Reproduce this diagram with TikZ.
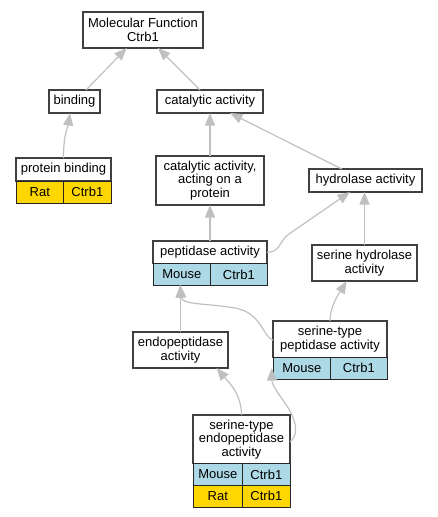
\documentclass[tikz,border=0pt]{standalone}
\usepackage{fontspec}
\setmainfont{Liberation Sans}
\usetikzlibrary{arrows.meta,calc}
\definecolor{edgec}{RGB}{192,192,192}
\definecolor{boxc}{RGB}{64,64,64}
\definecolor{mouse}{RGB}{173,216,230}
\definecolor{rat}{RGB}{255,215,0}
\begin{document}
\begin{tikzpicture}[x=1pt,y=-1pt,
  box/.style={draw=boxc,line width=1.3pt,fill=white,inner sep=0pt,outer sep=0pt,align=center,
    font=\fontsize{13}{13.4}\selectfont},
  cell/.style={draw=black!85,line width=1pt,inner sep=0pt,outer sep=0pt,align=center,
    font=\fontsize{13}{13.4}\selectfont},
  mousec/.style={cell,fill=mouse},
  ratc/.style={cell,fill=rat},
  edge/.style={draw=edgec,line width=1.2pt,-{Triangle[length=12.5pt,width=10pt]}}]
\path[use as bounding box] (0,0) rectangle (437,517);
% nodes
\node[box,minimum width=120,minimum height=36] (mf) at (143,30) {Molecular Function\\Ctrb1};
\node[box,minimum width=51,minimum height=23] (bind) at (74.5,101.5) {binding};
\node[box,minimum width=106,minimum height=23] (cat) at (210,101.5) {catalytic activity};
\node[box,minimum width=95,minimum height=23] (pbh) at (63.5,169.5) {protein binding};
\node[ratc,minimum width=47.7,minimum height=22] (pbr) at (39.85,192) {Rat};
\node[ratc,minimum width=47.3,minimum height=22] (pbc) at (87.35,192) {Ctrb1};
\node[box,minimum width=108,minimum height=49] (cap) at (210,180.5) {catalytic activity,\\acting on a\\protein};
\node[box,minimum width=113,minimum height=23] (hyd) at (365.5,180.5) {hydrolase activity};
\node[box,minimum width=114,minimum height=22.7] (peph) at (210,252.35) {peptidase activity};
\node[mousec,minimum width=57.7,minimum height=21.3] (pepm) at (181.85,274.35) {Mouse};
\node[mousec,minimum width=56.3,minimum height=21.3] (pepc) at (238.85,274.35) {Ctrb1};
\node[box,minimum width=105,minimum height=36] (shyd) at (364.5,263) {serine hydrolase\\activity};
\node[box,minimum width=95,minimum height=36] (endo) at (180.5,350) {endopeptidase\\activity};
\node[box,minimum width=114,minimum height=36.3] (stph) at (330,339.15) {serine-type\\peptidase activity};
\node[mousec,minimum width=57.7,minimum height=21.7] (stpm) at (301.85,368.15) {Mouse};
\node[mousec,minimum width=56.3,minimum height=21.7] (stpc) at (358.85,368.15) {Ctrb1};
\node[box,minimum width=97,minimum height=48.7] (steh) at (241.5,439.35) {serine-type\\endopeptidase\\activity};
\node[mousec,minimum width=49.7,minimum height=21.6] (stem) at (217.85,474.5) {Mouse};
\node[mousec,minimum width=47.3,minimum height=21.6] (stec) at (266.35,474.5) {Ctrb1};
\node[ratc,minimum width=49.7,minimum height=21.7] (ster) at (217.85,496.15) {Rat};
\node[ratc,minimum width=47.3,minimum height=21.7] (strc) at (266.35,496.15) {Ctrb1};
% edges
\draw[edge] ([xshift=11.5]bind.north) -- ([xshift=-16.3]mf.south);
\draw[edge] ([xshift=-10]cat.north) -- ([xshift=15]mf.south);
\draw[edge] (pbh.north) .. controls +(0,-25) and +(-2,14) .. ([xshift=-4.5]bind.south);
\draw[edge] (cap.north) -- (cat.south);
\draw[edge] ([xshift=-23.8]hyd.north) -- ([xshift=20]cat.south);
\draw[edge] (peph.north) -- (cap.south);
\draw[edge] (peph.east) .. controls +(12,0) and +(-8,8) .. ($(peph.east)+(20,-17)$) -- ([xshift=-15.5]hyd.south);
\draw[edge] (shyd.north) -- (shyd.north |- hyd.south);
\draw[edge] (stph.north) .. controls +(0,-16) and +(-6,10) .. ([xshift=-17.8]shyd.south);
\draw[edge] ([yshift=-1]stph.west) .. controls (262,336) and (262,313) .. (235,308) .. controls (205,303) and (182,305) .. ([xshift=-1.85]pepm.south);
\draw[edge] (endo.north) -- (endo.north |- pepm.south);
\draw[edge] (steh.north) .. controls +(0,-22) and +(10,12) .. ([xshift=36.2]endo.south);
\draw[edge] ([yshift=-2.6]steh.east) .. controls (297,436) and (299,425) .. (287,406) .. controls (278,393) and (272,385) .. ([xshift=-1.3]stpm.west);
\end{tikzpicture}
\end{document}
